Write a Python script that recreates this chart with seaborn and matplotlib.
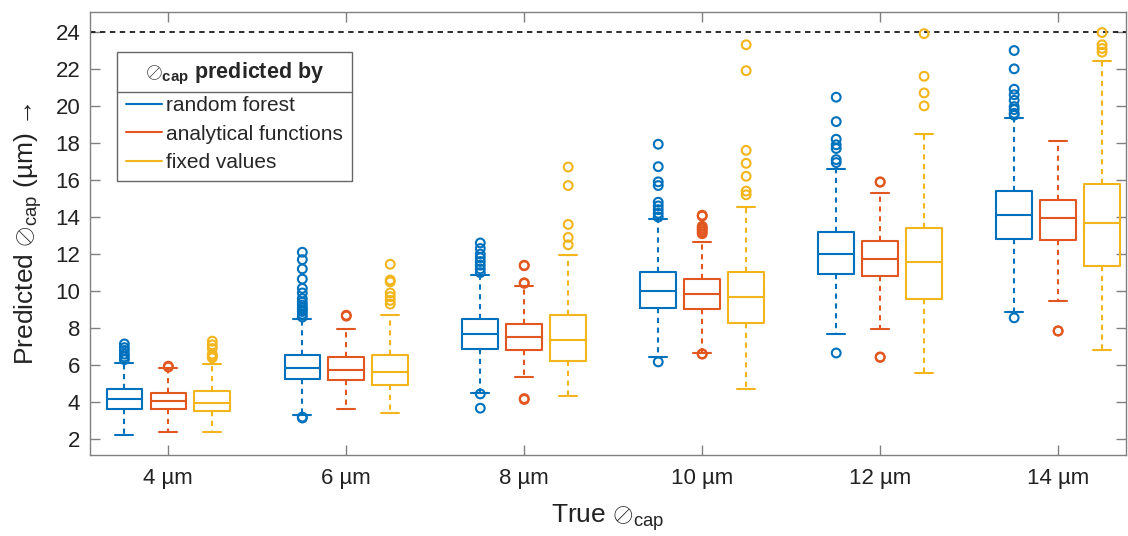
import numpy as np
import pandas as pd
import seaborn as sns
import matplotlib.pyplot as plt
from matplotlib.lines import Line2D

# Datos
groups = ["4 µm", "6 µm", "8 µm", "10 µm", "12 µm", "14 µm"]
methods = ["random forest", "analytical functions", "fixed values"]
colors = ["#0072BD", "#E2561F", "#F2B51C"]

# random forest
rf_q1 = [3.62, 5.23, 6.90, 9.10, 10.90, 12.79]
rf_med = [4.15, 5.86, 7.66, 10.02, 11.98, 14.11]
rf_q3 = [4.69, 6.54, 8.49, 11.01, 13.17, 15.42]
rf_lo = [2.22, 3.30, 4.50, 6.45, 7.66, 8.88]
rf_hi = [6.12, 8.50, 10.86, 13.88, 16.60, 19.34]
rf_out = [
    [6.3, 6.45, 6.6, 6.8, 6.95, 7.15],
    [3.15, 3.2, 8.6, 8.75, 8.9, 9.0, 9.1, 9.25, 9.4, 9.6, 9.9, 10.15, 10.65, 11.2, 11.7, 12.1],
    [3.68, 4.45, 11.0, 11.2, 11.4, 11.6, 11.8, 12.0, 12.3, 12.6],
    [6.18, 14.0, 14.2, 14.4, 14.6, 14.8, 15.7, 15.9, 16.72, 17.93],
    [6.66, 16.94, 17.1, 17.7, 17.9, 18.2, 19.15, 20.47],
    [8.56, 19.5, 19.6, 19.8, 19.96, 20.3, 20.6, 20.9, 22.0, 22.99],
]

# analytical functions
af_q1 = [3.62, 5.19, 6.81, 9.03, 10.81, 12.76]
af_med = [4.07, 5.73, 7.50, 9.84, 11.75, 13.96]
af_q3 = [4.52, 6.42, 8.22, 10.65, 12.70, 14.92]
af_lo = [2.38, 3.64, 5.37, 6.66, 7.98, 9.46]
af_hi = [5.85, 7.98, 10.30, 12.66, 15.28, 18.12]
af_out = [
    [5.9, 5.95],
    [8.65, 8.7],
    [4.15, 4.2, 10.42, 10.45, 11.37, 11.4],
    [6.6, 6.62, 13.1, 13.2, 13.3, 13.4, 13.5, 14.05, 14.1],
    [6.42, 6.45, 15.88, 15.9],
    [7.84, 7.86],
]

# fixed values
fv_q1 = [3.53, 4.92, 6.23, 8.29, 9.60, 11.35]
fv_med = [3.95, 5.64, 7.35, 9.69, 11.57, 13.66]
fv_q3 = [4.63, 6.54, 8.70, 11.01, 13.39, 15.78]
fv_lo = [2.40, 3.42, 4.34, 4.74, 5.58, 6.83]
fv_hi = [6.05, 8.70, 11.95, 14.52, 18.49, 22.45]
fv_out = [
    [6.4, 6.5, 6.6, 6.9, 7.1, 7.3],
    [9.3, 9.5, 9.7, 9.9, 10.5, 10.6, 11.45],
    [12.5, 12.9, 13.6, 15.7, 16.7],
    [15.2, 15.4, 16.2, 16.9, 17.6, 21.9, 23.3],
    [20.0, 20.7, 21.6, 23.9],
    [22.9, 23.1, 23.3, 23.96],
]

limit = 24

stats = [
    (rf_q1, rf_med, rf_q3, rf_lo, rf_hi, rf_out),
    (af_q1, af_med, af_q3, af_lo, af_hi, af_out),
    (fv_q1, fv_med, fv_q3, fv_lo, fv_hi, fv_out),
]

sns.set_theme(style="ticks")
plt.rcParams["font.family"] = ["Liberation Sans", "DejaVu Sans"]
plt.rcParams["mathtext.fontset"] = "custom"
plt.rcParams["mathtext.rm"] = "Liberation Sans"
plt.rcParams["mathtext.bf"] = "Liberation Sans:bold"
plt.rcParams["mathtext.it"] = "Liberation Sans:italic"

fig, ax = plt.subplots(figsize=(11.28, 5.36), dpi=100)
fig.subplots_adjust(left=0.0798, right=0.998, bottom=0.151, top=0.978)

offsets = [-0.247, 0.0, 0.247]
centers = np.arange(1, len(groups) + 1)

# Cajas
rows = []
for m, (q1, med, q3, lo, hi, out) in enumerate(stats):
    c = colors[m]
    box_stats = [dict(q1=q1[i], med=med[i], q3=q3[i], whislo=lo[i], whishi=hi[i], fliers=[])
                 for i in range(len(groups))]
    ax.bxp(box_stats, positions=centers + offsets[m], widths=0.2, showfliers=False,
           manage_ticks=False,
           boxprops=dict(color=c, lw=1.5),
           whiskerprops=dict(color=c, lw=1.5, linestyle=(0, (2.5, 2.2))),
           capprops=dict(color=c, lw=1.5),
           medianprops=dict(color=c, lw=1.5))
    for i, vals in enumerate(out):
        for v in vals:
            rows.append({"x": centers[i] + offsets[m], "value": v, "method": methods[m]})

# Valores atipicos
outliers = pd.DataFrame(rows)
sns.scatterplot(data=outliers, x="x", y="value", hue="method", hue_order=methods,
                palette=colors, marker="o", s=40, linewidth=1.5, legend=False, ax=ax, zorder=3)
pts = ax.collections[-1]
pts.set_edgecolors(pts.get_facecolors())
pts.set_facecolors("none")

ax.axhline(limit, color="#1a1a1a", lw=1.3, linestyle=(0, (3, 2.5)), zorder=1)

ax.set_xlim(0.56, 6.38)
ax.set_ylim(1.15, 25.08)
ax.set_xticks(centers, groups)
ax.set_yticks(np.arange(2, 25, 2))
ax.tick_params(direction="in", top=True, right=True, length=7, width=1, pad=7,
               color="#808080", labelsize=16, labelcolor="#222222")
ax.tick_params(axis="x", pad=9)
for sp in ax.spines.values():
    sp.set_visible(True)
    sp.set_color("#808080")
    sp.set_linewidth(1)

ax.set_xlabel(r"True $\oslash_{\mathrm{cap}}$", fontsize=19, color="#222222", labelpad=10)
ax.set_ylabel(r"Predicted $\oslash_{\mathrm{cap}}$ (µm) →", fontsize=19, color="#222222", labelpad=8)

handles = [Line2D([], [], color=c, lw=1.5) for c in colors]
leg = ax.legend(handles, methods, title=r"$\oslash_{\mathbf{cap}}$ predicted by",
                loc="upper left", bbox_to_anchor=(0.026, 0.91), borderaxespad=0,
                fontsize=15, title_fontproperties={"weight": "bold", "size": 15.5},
                frameon=True, fancybox=False, framealpha=1, edgecolor="#666666",
                handlelength=1.75, handletextpad=0.2, labelspacing=0.46, borderpad=0.42)
leg.get_frame().set_linewidth(1)

# Linea bajo el titulo de la leyenda
fig.canvas.draw()
r = fig.canvas.get_renderer()
tb = leg.get_title().get_window_extent(r)
fb = leg.get_frame().get_window_extent(r)
inv = fig.transFigure.inverted()
(x0, y0), (x1, _) = inv.transform([(fb.x0, tb.y0 - 5), (fb.x1, tb.y0 - 5)])
fig.add_artist(Line2D([x0, x1], [y0, y0], transform=fig.transFigure, color="#666666", lw=1))

plt.savefig("out.png", dpi=100)
